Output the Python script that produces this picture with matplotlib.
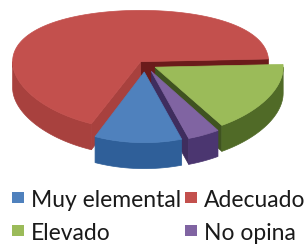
import numpy as np
import matplotlib
matplotlib.use('Agg')
import matplotlib.pyplot as plt
from matplotlib.patches import Polygon, Rectangle

# ---- data ----
categories = ['Muy elemental', 'Adecuado', 'Elevado', 'No opina']
values = [11, 68, 17, 4]

# ---- style ----
top_colors = ['#4F81BD', '#C3504D', '#9BBB59', '#8064A2']
side_colors = ['#2F5F99', '#A8413E', '#506A27', '#4B3670']
wall_colors = ['#284F80', '#6B1B1B', '#3F5320', '#3F2D5E']
explode = [0.12, 0.06, 0.09, 0.12]
start_angle = 287.0
cx, cy, a, b0, b1, depth = 145.0, 64.6, 128.0, 60.4, 8.3, 26.0

fig = plt.figure(figsize=(3.04, 2.47), dpi=100)
ax = fig.add_axes([0, 0, 1, 1])
ax.set_xlim(0, 304)
ax.set_ylim(247, 0)
ax.axis('off')


def proj(u, w, z=0.0):
    v = -np.asarray(w)
    return cx + a * np.asarray(u), cy + b0 * v + b1 * v * v + z


total = float(sum(values))
cum = np.concatenate([[0], np.cumsum(values)])
slices = []
for i, val in enumerate(values):
    hi = start_angle - 360.0 * cum[i] / total
    lo = start_angle - 360.0 * cum[i + 1] / total
    mid = np.radians((lo + hi) / 2)
    ou, ow = explode[i] * np.cos(mid), explode[i] * np.sin(mid)
    slices.append((i, lo, hi, ou, ow, -np.sin(mid)))

slices.sort(key=lambda t: t[5])


def arc(lo, hi, ou, ow, z=0.0):
    n = max(int(abs(hi - lo) / 2) + 2, 3)
    t = np.radians(np.linspace(lo, hi, n))
    return proj(ou + np.cos(t), ow + np.sin(t), z)


for i, lo, hi, ou, ow, _ in slices:
    # radial walls
    for ang, nrm, col in ((lo, lo - 90, wall_colors[i]),
                          (hi, hi + 90, side_colors[i])):
        if np.sin(np.radians(nrm)) < 0:
            t = np.radians(ang)
            x0, y0 = proj(ou, ow)
            x1, y1 = proj(ou + np.cos(t), ow + np.sin(t))
            poly = [(x0, y0), (x1, y1), (x1, y1 + depth), (x0, y0 + depth)]
            ax.add_patch(Polygon(poly, closed=True, fc=col, ec=col, lw=0.5))
    # outer wall (front half)
    for n in (-1, 0, 1):
        f0, f1 = 180 + 360 * n, 360 + 360 * n
        s0, s1 = max(lo, f0), min(hi, f1)
        if s1 > s0:
            xt, yt = arc(s0, s1, ou, ow)
            xb, yb = arc(s0, s1, ou, ow, depth)
            poly = np.column_stack([np.concatenate([xt, xb[::-1]]),
                                    np.concatenate([yt, yb[::-1]])])
            ax.add_patch(Polygon(poly, closed=True, fc=side_colors[i],
                                 ec=side_colors[i], lw=0.5))
    # top face
    xa, ya = arc(lo, hi, ou, ow)
    x0, y0 = proj(ou, ow)
    poly = np.column_stack([np.concatenate([[x0], xa]),
                            np.concatenate([[y0], ya])])
    ax.add_patch(Polygon(poly, closed=True, fc=top_colors[i],
                         ec=top_colors[i], lw=0.5))

# legend (2 columns x 2 rows)
leg_pos = {0: (12, 207), 1: (185, 207), 2: (12, 240), 3: (185, 240)}
for i, name in enumerate(categories):
    x, yb = leg_pos[i]
    ax.add_patch(Rectangle((x, yb - 15), 11.5, 11, fc=top_colors[i],
                           ec='none'))
    ax.text(x + 19, yb, name, fontsize=16.5, family='Lato',
            color='#1a1a1a', va='baseline', ha='left')

fig.savefig('out.png', dpi=100)
